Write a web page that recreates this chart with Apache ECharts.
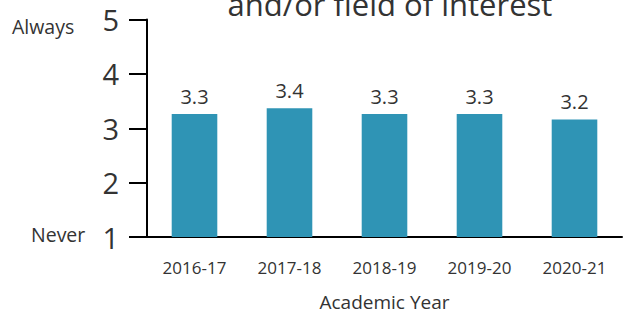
<!DOCTYPE html>
<html>
<head>
<meta charset="utf-8">
<script src="https://cdn.jsdelivr.net/npm/echarts@6/dist/echarts.min.js"></script>
<style>
  html, body { margin: 0; padding: 0; background: #fff; }
  #chart { width: 629px; height: 318px; }
</style>
</head>
<body>
<div id="chart"></div>
<script>
  var years = ['2016-17', '2017-18', '2018-19', '2019-20', '2020-21'];
  var scores = [3.26, 3.37, 3.26, 3.26, 3.16];
  var yTicks = [1, 2, 3, 4, 5];
  var titleLine = 'and/or field of interest';

  var ink = '#333333';
  var font = 'Open Sans';
  var chart = echarts.init(document.getElementById('chart'), null, { renderer: 'svg' });

  chart.setOption({
    animation: false,
    textStyle: { fontFamily: font },
    title: {
      text: titleLine,
      left: 385,
      textAlign: 'center',
      top: -17,
      textStyle: { fontFamily: font, fontSize: 31, fontWeight: 'normal', color: ink }
    },
    grid: { left: 147, right: 7, top: 19.5, bottom: 81 },
    xAxis: {
      type: 'category',
      data: years,
      name: 'Academic Year',
      nameLocation: 'middle',
      nameGap: 55,
      nameTextStyle: { fontSize: 19, color: ink },
      axisLine: { lineStyle: { color: '#000', width: 2 } },
      axisTick: { alignWithLabel: true, length: 19, lineStyle: { color: '#000', width: 2 } },
      axisLabel: { fontSize: 17, color: ink, margin: 22 }
    },
    yAxis: {
      type: 'value',
      min: yTicks[0],
      max: yTicks[yTicks.length - 1],
      interval: 1,
      splitLine: { show: false },
      axisLine: { show: true, lineStyle: { color: '#000', width: 2 } },
      axisTick: { show: true, length: 18, lineStyle: { color: '#000', width: 2 } },
      axisLabel: { fontSize: 29, color: ink, margin: 28 }
    },
    graphic: [
      { type: 'text', left: 12, top: 16, style: { text: 'Always', font: '19.5px "Open Sans"', fill: ink } },
      { type: 'text', left: 31, top: 224, style: { text: 'Never', font: '19.5px "Open Sans"', fill: ink } }
    ],
    series: [{
      type: 'bar',
      data: scores,
      barWidth: '48%',
      itemStyle: { color: '#2f94b5' },
      label: {
        show: true,
        position: 'top',
        distance: 8,
        fontSize: 20,
        color: ink,
        formatter: function (p) { return p.value.toFixed(1); }
      }
    }]
  });
</script>
</body>
</html>
